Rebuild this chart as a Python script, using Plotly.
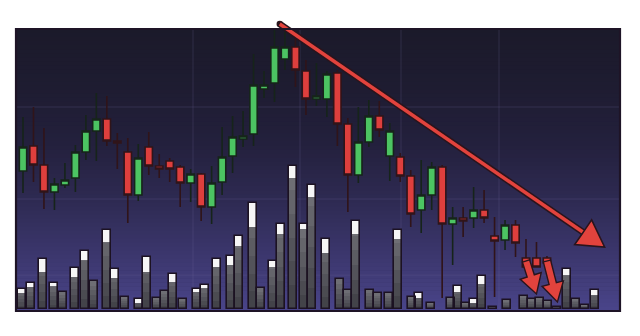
import plotly.graph_objects as go

# ---------------- data ----------------
# candle index (time) and OHLC prices
candle_t = list(range(51))
opens = [80, 92.5, 83, 69.5, 73, 76.5, 89.5, 100, 106, 95, 89.5, 68, 92, 82.5, 85, 82, 74, 78.5, 62, 74.5,
         87.5, 96, 98.5, 121, 124, 136, 142, 130, 116, 116, 129, 103.5, 78, 94.5, 107.5, 87.5, 87, 77.5, 60.5, 68,
         82, 53.5, 56.5, 56.5, 60.5, 47.5, 45.5, 53, 36.5, 36.5, 36.5]
closes = [92, 83, 69.5, 73.5, 75.5, 89.5, 100, 106, 95, 94, 68, 86.5, 82.5, 81, 81, 74, 78.5, 62, 74, 87,
          97, 97.5, 123, 123, 142, 142, 130.5, 116, 117.5, 128.5, 103.5, 78, 94.5, 107.5, 100.5, 100, 77.5, 58.5, 68, 82,
          53.5, 56.5, 55, 60.5, 56.5, 45, 53, 44, 32, 32, 34]
highs = [107, 112, 101.5, 76.5, 84, 93, 108, 119, 117.5, 99, 96.5, 93.5, 99.5, 88.5, 86.5, 83, 81, 79, 82.5, 102,
         107.5, 110, 138.5, 130, 150.5, 149.5, 147, 135.5, 134, 130, 130.5, 106.5, 112, 115.5, 115, 104, 89, 80.5, 85.5, 84.5,
         83, 62, 62, 72, 70.5, 57, 55.5, 55.5, 46, 44.5, 37.5]
lows = [69, 74.5, 61, 60.5, 71.5, 69.5, 85.5, 85, 92.5, 81, 54, 65, 78, 76.5, 74.5, 62, 64.5, 55, 53.5, 68,
        79, 92, 92.5, 116.5, 114.5, 130.5, 122, 108, 112.5, 107, 92.5, 59.5, 74, 92, 97, 75, 74.5, 52, 49, 60.5,
        16.5, 33, 47, 51.5, 54, 17, 40.5, 37, 32, 32, 34]

# volume bars: position (same time units), total volume, highlighted top part
vol_t = [-0.1, 0.76, 1.91, 2.96, 3.82, 4.96, 5.92, 6.77, 8.02, 8.78, 9.73, 11.07, 11.83, 12.79, 13.55, 14.31,
         15.27, 16.6, 17.37, 18.51, 19.85, 20.61, 21.95, 22.71, 23.85, 24.62, 25.76, 26.81, 27.58, 28.91, 30.25,
         31.01, 31.77, 33.11, 33.87, 34.92, 35.78, 37.12, 37.79, 38.93, 40.84, 41.51, 42.27, 43.03, 43.8, 44.85,
         46.18, 47.81, 48.57, 49.33, 50.1, 50.95, 51.91, 52.77, 53.63, 54.58]
volume = [200, 260, 500, 260, 170, 410, 580, 280, 790, 400, 120, 100, 520, 110, 180, 350,
          100, 200, 240, 500, 530, 730, 1060, 210, 480, 850, 1430, 850, 1240, 700, 300,
          190, 880, 190, 160, 160, 790, 120, 160, 60, 110, 230, 60, 100, 330, 20,
          90, 130, 100, 110, 80, 20, 400, 100, 40, 190]
vol_cap = [40, 40, 130, 30, 0, 90, 90, 0, 120, 90, 0, 40, 150, 0, 0, 80,
           0, 30, 30, 80, 90, 100, 240, 0, 60, 100, 120, 50, 120, 140, 0,
           0, 130, 0, 0, 0, 90, 0, 50, 0, 0, 60, 0, 40, 80, 0,
           0, 0, 0, 0, 0, 0, 60, 0, 0, 50]

# trend annotations (time, price): big trend arrow and two small drop arrows
trend_start = (24.5, 153.5)
trend_tip = (55.5, 42.0)
drop_arrows = [((48.0, 35.0), (49.0, 18.5)), ((50.0, 35.0), (51.0, 14.5))]

# ---------------- layout geometry ----------------
W, H = 640, 336
ML, MR, MT, MB = 16, 20, 29, 25
X_RANGE = [-0.668, 56.97]
Y_RANGE = [10, 151]
V_RANGE = [-20, 2800]
PW, PH = W - ML - MR, H - MT - MB


def d2px(t, p):
    px = ML + (t - X_RANGE[0]) / (X_RANGE[1] - X_RANGE[0]) * PW
    py = MT + (Y_RANGE[1] - p) / (Y_RANGE[1] - Y_RANGE[0]) * PH
    return px, py


def px2paper(px, py):
    return (px - ML) / PW, (H - MB - py) / PH


def poly_path(pts):
    s = ""
    for i, (px, py) in enumerate(pts):
        x, y = px2paper(px, py)
        s += ("M" if i == 0 else "L") + f"{x:.5f},{y:.5f} "
    return s + "Z"


def arrow_polygon(p0, p1, shaft_w, head_len, head_w):
    x0, y0 = p0
    x1, y1 = p1
    dx, dy = x1 - x0, y1 - y0
    L = (dx * dx + dy * dy) ** 0.5
    ux, uy = dx / L, dy / L
    nx, ny = -uy, ux
    bx, by = x1 - ux * head_len, y1 - uy * head_len
    sw, hw = shaft_w / 2, head_w / 2
    return [(x0 + nx * sw, y0 + ny * sw), (bx + nx * sw, by + ny * sw), (bx + nx * hw, by + ny * hw),
            (x1, y1), (bx - nx * hw, by - ny * hw), (bx - nx * sw, by - ny * sw), (x0 - nx * sw, y0 - ny * sw)]


def lerp_color(stops, f):
    for i in range(len(stops) - 1):
        f0, c0 = stops[i]
        f1, c1 = stops[i + 1]
        if f0 <= f <= f1:
            r = (f - f0) / (f1 - f0) if f1 > f0 else 0
            c = [int(round(c0[k] + (c1[k] - c0[k]) * r)) for k in range(3)]
            return f"rgb({c[0]},{c[1]},{c[2]})"
    c = stops[-1][1]
    return f"rgb({c[0]},{c[1]},{c[2]})"


shapes = []
# background vertical gradient (paper y: 0 bottom, 1 top)
bg_stops = [(0.0, (74, 69, 138)), (0.15, (63, 58, 116)), (0.38, (47, 43, 84)), (0.6, (35, 32, 60)),
            (0.8, (30, 28, 49)), (1.0, (27, 26, 42))]
NB = 70
for i in range(NB):
    y0 = i / NB
    y1 = min(1.0, (i + 1) / NB + 0.002)
    shapes.append(dict(type="rect", xref="paper", yref="paper", x0=0, x1=1, y0=y0, y1=y1,
                       fillcolor=lerp_color(bg_stops, (y0 + y1) / 2), line=dict(width=0), layer="below"))
# faint grid lines
for gx in [193, 300, 401, 499]:
    x, _ = px2paper(gx, 0)
    shapes.append(dict(type="line", xref="paper", yref="paper", x0=x, x1=x, y0=0, y1=1,
                       line=dict(color="rgba(120,115,170,0.22)", width=1), layer="below"))
for gy in [107, 199, 275]:
    _, y = px2paper(0, gy)
    shapes.append(dict(type="line", xref="paper", yref="paper", x0=0, x1=1, y0=y, y1=y,
                       line=dict(color="rgba(120,115,170,0.22)", width=1), layer="below"))

# ---------------- traces ----------------
fig = go.Figure()

fig.add_trace(go.Candlestick(
    x=candle_t, open=opens, high=highs, low=lows, close=closes,
    increasing=dict(line=dict(color="#16241a", width=1.6), fillcolor="#4cc462"),
    decreasing=dict(line=dict(color="#301419", width=1.6), fillcolor="#de3f3d"),
    whiskerwidth=0, showlegend=False, hoverinfo="skip"))

BW = 0.7
gray_steps = ["#6e6e74", "#65656b", "#5c5c62", "#53535a", "#4b4b51", "#434349"]
n = len(gray_steps)
for k, col in enumerate(gray_steps):
    frac = 1 - k / n
    fig.add_trace(go.Bar(x=vol_t, y=[v * frac for v in volume], base=0, width=BW, yaxis="y2",
                         marker=dict(color=col, line=dict(width=0)), showlegend=False, hoverinfo="skip"))
fig.add_trace(go.Bar(x=vol_t, y=vol_cap, base=[v - c for v, c in zip(volume, vol_cap)], width=BW, yaxis="y2",
                     marker=dict(color="#f6f6f6", line=dict(width=0)), showlegend=False, hoverinfo="skip"))
fig.add_trace(go.Bar(x=vol_t, y=volume, base=0, width=BW, yaxis="y2",
                     marker=dict(color="rgba(0,0,0,0)", line=dict(color="#1c1222", width=1.6)),
                     showlegend=False, hoverinfo="skip"))

# ---------------- annotation shapes (arrows, frame) ----------------
RED = "#e2433d"
DARK = "#2a141c"
sx, sy = d2px(*trend_start)
tx, ty = d2px(*trend_tip)
dx, dy = tx - sx, ty - sy
Ld = (dx * dx + dy * dy) ** 0.5
ex, ey = tx - dx / Ld * 22, ty - dy / Ld * 22
p0 = px2paper(sx, sy)
p1 = px2paper(ex, ey)
shapes.append(dict(type="line", xref="paper", yref="paper", x0=p0[0], y0=p0[1], x1=p1[0], y1=p1[1],
                   line=dict(color=DARK, width=6.5), layer="above"))
r = 3.2
c0 = px2paper(sx - r, sy - r)
c1 = px2paper(sx + r, sy + r)
shapes.append(dict(type="circle", xref="paper", yref="paper", x0=c0[0], y0=c0[1], x1=c1[0], y1=c1[1],
                   fillcolor=DARK, line=dict(width=0), layer="above"))
shapes.append(dict(type="line", xref="paper", yref="paper", x0=p0[0], y0=p0[1], x1=p1[0], y1=p1[1],
                   line=dict(color=RED, width=3.5), layer="above"))
head = arrow_polygon((sx, sy), (tx, ty), 3.5, 26, 30)
shapes.append(dict(type="path", xref="paper", yref="paper", path=poly_path(head[1:6]),
                   fillcolor=RED, line=dict(color=DARK, width=1.6), layer="above"))

for (a0, a1) in drop_arrows:
    q0 = d2px(*a0)
    q1 = d2px(*a1)
    pts = arrow_polygon(q0, q1, 7.5, 19, 22)
    shapes.append(dict(type="path", xref="paper", yref="paper", path=poly_path(pts),
                       fillcolor=RED, line=dict(color=DARK, width=1.4), layer="above"))

# frame
shapes.append(dict(type="rect", xref="paper", yref="paper", x0=0, x1=1, y0=0, y1=1,
                   line=dict(color="#1e1426", width=2.2), fillcolor="rgba(0,0,0,0)", layer="above"))

fig.update_layout(
    width=W, height=H,
    margin=dict(l=ML, r=MR, t=MT, b=MB, pad=0),
    paper_bgcolor="#ffffff", plot_bgcolor="#2c2950",
    barmode="overlay", bargap=0,
    boxgap=0.3, boxgroupgap=0,
    showlegend=False,
    shapes=shapes,
    xaxis=dict(range=X_RANGE, visible=False, showgrid=False, zeroline=False,
               rangeslider=dict(visible=False), fixedrange=True),
    yaxis=dict(range=Y_RANGE, visible=False, showgrid=False, zeroline=False, fixedrange=True),
    yaxis2=dict(range=V_RANGE, overlaying="y", visible=False, showgrid=False, zeroline=False, fixedrange=True),
)

fig.write_html("out.html", config={"displayModeBar": False})
